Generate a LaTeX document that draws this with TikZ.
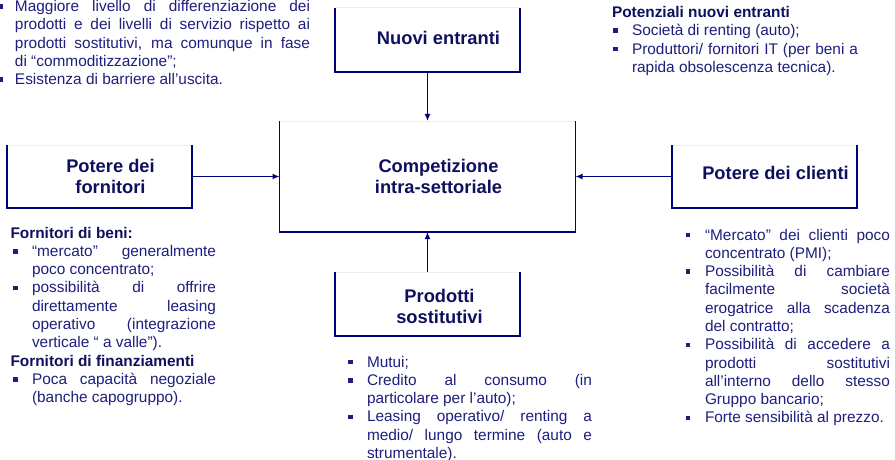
\documentclass[tikz,border=0pt]{standalone}
\usepackage{fontspec}
\setmainfont{Liberation Sans}
\usetikzlibrary{arrows.meta}

\definecolor{navyline}{RGB}{0,0,120}
\definecolor{navytitle}{RGB}{15,15,95}
\definecolor{navytext}{RGB}{30,30,125}
\definecolor{faintedge}{RGB}{238,238,242}

\newlength\sqind
\newlength\sqshift
\newcommand\sqbullet{\rule[2.8pt]{4.5pt}{4.5pt}}
\newcommand\sqitem[1]{\par\noindent\hangindent=\sqind\hangafter=1\makebox[\sqind][l]{\hspace{\sqshift}\sqbullet}#1}
\newcommand\sqhead[1]{\par\noindent{\bfseries\color{navytitle}#1}}
\newcommand\blockpar[2]{\parbox[t]{#1}{\tolerance=10000\hbadness=10000\hyphenpenalty=10000 #2}}

\tikzset{
  forcebox/.style={inner sep=0, outer sep=0, draw=none},
  boxedge/.style={navyline, line width=1.3pt},
  topedge/.style={faintedge, line width=1pt},
  titletext/.style={inner sep=0, align=center, navytitle, font=\fontsize{18.3pt}{21pt}\selectfont\bfseries},
  textblock/.style={inner sep=0, outer sep=0, anchor=base west, navytext, font=\fontsize{15.4pt}{18.3pt}\selectfont},
  forcearrow/.style={navyline, line width=1.3pt, -{Latex[length=7pt,width=6pt]}}
}

\begin{document}
\begin{tikzpicture}[x=1pt,y=-1pt]
\useasboundingbox (0,0) rectangle (895,460);
% the five forces
\node[forcebox, minimum width=185pt, minimum height=64pt] (nuovi) at (427.5,40) {};
\node[forcebox, minimum width=296pt, minimum height=111pt] (compet) at (427.5,176.5) {};
\node[forcebox, minimum width=185pt, minimum height=63pt] (fornit) at (99.5,176.5) {};
\node[forcebox, minimum width=185pt, minimum height=63pt] (clienti) at (764.5,176.5) {};
\node[forcebox, minimum width=185pt, minimum height=64pt] (prodotti) at (427.5,304) {};
\foreach \b in {nuovi,compet,fornit,clienti,prodotti}{
  \draw[topedge] (\b.north west) -- (\b.north east);
  \draw[boxedge] (\b.north west) -- (\b.south west) -- (\b.south east) -- (\b.north east);
}
\node[titletext] (nuovititle) at ([xshift=11pt,yshift=2pt]nuovi.center) {Nuovi entranti};
\node[titletext] (compettitle) at ([xshift=11pt]compet.center) {Competizione\\intra-settoriale};
\node[titletext] (fornittitle) at ([xshift=11pt]fornit.center) {Potere dei\\fornitori};
\node[titletext] (clientititle) at ([xshift=11pt,yshift=3.5pt]clienti.center) {Potere dei clienti};
\node[titletext] (prodottititle) at ([xshift=12pt,yshift=-2pt]prodotti.center) {Prodotti\\sostitutivi};
% arrows into the centre
\draw[forcearrow] (nuovi) -- (compet);
\draw[forcearrow] (fornit) -- (compet);
\draw[forcearrow] (clienti) -- (compet);
\draw[forcearrow] (prodotti) -- (compet);
% text blocks
\node[textblock] (rivalblock) at (-3,11.5) {\blockpar{313pt}{\setlength\sqind{18pt}\setlength\sqshift{1.5pt}%
  \sqitem{Maggiore livello di differenziazione dei\linebreak prodotti e dei livelli di servizio rispetto ai\linebreak prodotti sostitutivi, ma comunque in fase\linebreak di “commoditizzazione”;}%
  \sqitem{Esistenza di barriere all’uscita.}}};
\node[textblock] (entrblock) at (612,17.5) {\blockpar{246pt}{\setlength\sqind{20pt}\setlength\sqshift{1.3pt}%
  \sqhead{Potenziali nuovi entranti}%
  \sqitem{Società di renting (auto);}%
  \sqitem{Produttori/ fornitori IT (per beni a\linebreak rapida obsolescenza tecnica).}}};
\node[textblock] (fornblock) at (10.5,238) {\blockpar{205.5pt}{\setlength\sqind{21.5pt}\setlength\sqshift{2.8pt}%
  \sqhead{Fornitori di beni:}%
  \sqitem{“mercato” generalmente\linebreak poco concentrato;}%
  \sqitem{possibilità di offrire\linebreak direttamente leasing\linebreak operativo (integrazione\linebreak verticale “ a valle”).}%
  \sqhead{Fornitori di finanziamenti}%
  \sqitem{Poca capacità negoziale\linebreak (banche capogruppo).}}};
\node[textblock] (sostblock) at (347,367) {\blockpar{245pt}{\setlength\sqind{20pt}\setlength\sqshift{1.3pt}%
  \sqitem{Mutui;}%
  \sqitem{Credito al consumo (in\linebreak particolare per l’auto);}%
  \sqitem{Leasing operativo/ renting a\linebreak medio/ lungo termine (auto e\linebreak strumentale).}}};
\node[textblock] (clientiblock) at (684,240) {\blockpar{206pt}{\setlength\sqind{21pt}\setlength\sqshift{1.5pt}%
  \sqitem{“Mercato” dei clienti poco\linebreak concentrato (PMI);}%
  \sqitem{Possibilità di cambiare\linebreak facilmente società\linebreak erogatrice alla scadenza\linebreak del contratto;}%
  \sqitem{Possibilità di accedere a\linebreak prodotti sostitutivi\linebreak all’interno dello stesso\linebreak Gruppo bancario;}%
  \sqitem{Forte sensibilità al prezzo.}}};
\end{tikzpicture}
\end{document}
